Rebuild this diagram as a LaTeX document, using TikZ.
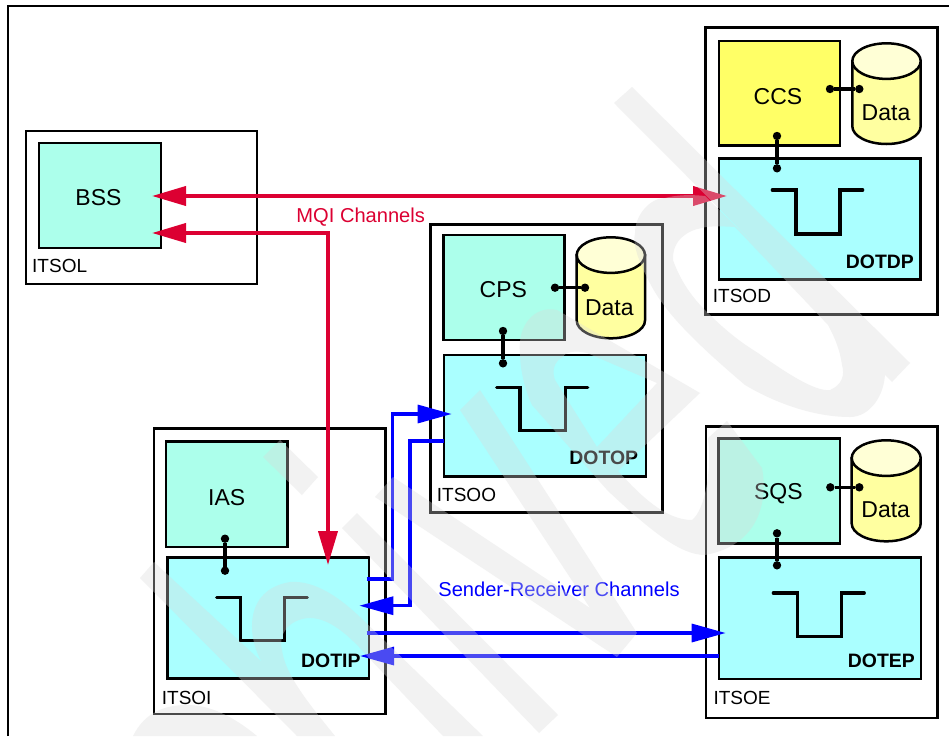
\documentclass[tikz,border=0pt]{standalone}
\usepackage{fontspec}
\setmainfont{Liberation Sans}
\usetikzlibrary{arrows.meta}
\definecolor{mint}{RGB}{172,255,235}
\definecolor{aqua}{RGB}{170,255,255}
\definecolor{lemon}{RGB}{255,255,102}
\definecolor{cylbody}{RGB}{255,255,160}
\definecolor{cyltop}{RGB}{255,255,214}
\definecolor{mqired}{RGB}{220,0,50}
\definecolor{srblue}{RGB}{0,0,255}
\tikzset{
  sysbox/.style={draw=black,line width=2.5pt,fill=white,rectangle,inner sep=0pt,outer sep=0pt,anchor=north west},
  appbox/.style={draw=black,line width=2.5pt,fill=#1,rectangle,inner sep=0pt,outer sep=0pt,anchor=north west},
  qmbox/.style={draw=black,line width=2.5pt,fill=aqua,rectangle,inner sep=0pt,outer sep=0pt,anchor=north west},
  pin/.style={circle,fill=black,inner sep=0pt,outer sep=0pt,minimum size=8.4pt},
  pinlink/.style={draw=black,line width=3.2pt},
  bigtxt/.style={inner sep=0pt,font=\fontsize{23}{23}\selectfont},
  systxt/.style={inner sep=0pt,anchor=west,font=\fontsize{19}{19}\selectfont},
  qmtxt/.style={inner sep=0pt,anchor=east,font=\fontsize{19.4}{19}\selectfont\bfseries},
  chtxt/.style={inner sep=0pt,font=\fontsize{20.1}{20}\selectfont},
  pulse/.style={draw=black,line width=3.2pt,line cap=round,line join=miter},
  cylline/.style={draw=black,line width=2.5pt},
  redarrows/.style={draw=mqired,line width=3.8pt,line join=miter,{Triangle[length=34pt,width=19pt]}-{Triangle[length=34pt,width=19pt]}},
  bluearrow/.style={draw=srblue,line width=3.2pt,line join=miter,-{Triangle[length=34pt,width=18pt]}},
}
\newcommand{\pxbox}[6]{%
  \pgfmathsetmacro{\pxw}{#5-#3}\pgfmathsetmacro{\pxh}{#6-#4}%
  \node[#2,minimum width=\pxw pt,minimum height=\pxh pt] (#1) at (#3,#4) {};}
\newcommand{\datacyl}[4]{% left right top bottom
  \pgfmathsetmacro{\cx}{(#1+#2)/2}\pgfmathsetmacro{\rxx}{(#2-#1)/2}%
  \pgfmathsetmacro{\ct}{#3+17.8}\pgfmathsetmacro{\cb}{#4-17.8}%
  \path[cylline,fill=cylbody] (#1,\ct) -- (#1,\cb) arc[start angle=180,end angle=0,x radius=\rxx,y radius=17.8] -- (#2,\ct) -- cycle;
  \path[cylline,fill=cyltop] (\cx,\ct) ellipse[x radius=\rxx,y radius=17.8];}
\begin{document}
\begin{tikzpicture}[x=1pt,y=-1pt]
\useasboundingbox (0,0) rectangle (949,736);
\fill[white] (0,0) rectangle (949,736);
\draw[black,line width=1.7pt] (8.3,736) -- (8.3,6) -- (949,6);

% ITSOL
\pxbox{itsol}{sysbox}{26}{131}{257}{284}
\pxbox{bss}{appbox=mint}{39}{143}{161}{248}
\node[bigtxt] (bsst) at (98.5,198) {BSS};
\node[systxt] (itsolt) at (32,266) {ITSOL};

% ITSOD
\pxbox{itsod}{sysbox}{705.7}{27.7}{937.3}{314.3}
\pxbox{ccs}{appbox=lemon}{719}{41}{840}{145.7}
\datacyl{852.3}{920.7}{43.3}{144}
\pxbox{dotdp}{qmbox}{719}{158.3}{920.7}{279.3}
\node[bigtxt] (ccst) at (778,96.7) {CCS};
\node[bigtxt] (datad) at (886,112.3) {Data};
\node[qmtxt] (dotdpt) at (914,262) {DOTDP};
\node[systxt] (itsodt) at (712.7,296) {ITSOD};
\node[pin] (d1) at (830,89) {}; \node[pin] (d2) at (859.3,89) {};
\node[pin] (d3) at (777,136) {}; \node[pin] (d4) at (777,168.3) {};
\draw[pinlink] (d1) -- (d2); \draw[pinlink] (d3) -- (d4);
\draw[pulse] (772.3,190) -- (796,190) -- (796,234) -- (840,234) -- (840,190) -- (862.7,190);

% ITSOO
\pxbox{itsoo}{sysbox}{430.7}{224.7}{662.3}{512.3}
\pxbox{cps}{appbox=mint}{443.3}{235}{564.3}{340}
\datacyl{576.7}{645}{237.3}{338.3}
\pxbox{dotop}{qmbox}{444}{355}{646}{476.7}
\node[bigtxt] (cpst) at (503.3,290) {CPS};
\node[bigtxt] (datao) at (609.3,307.3) {Data};
\node[qmtxt] (dotopt) at (638.3,458.3) {DOTOP};
\node[systxt] (itsoot) at (436.7,495) {ITSOO};
\node[pin] (o1) at (555,287.7) {}; \node[pin] (o2) at (585,287.7) {};
\node[pin] (o3) at (503,331) {}; \node[pin] (o4) at (503,363.3) {};
\draw[pinlink] (o1) -- (o2); \draw[pinlink] (o3) -- (o4);
\draw[pulse] (496.7,387.7) -- (520,387.7) -- (520,430.7) -- (565.7,430.7) -- (565.7,387.7) -- (587.7,387.7);

% ITSOI
\pxbox{itsoi}{sysbox}{154}{428.3}{385.7}{714}
\pxbox{ias}{appbox=mint}{166}{441.7}{287.7}{547}
\pxbox{dotip}{qmbox}{167.3}{557.3}{369}{678.3}
\node[bigtxt] (iast) at (226.7,497.3) {IAS};
\node[qmtxt] (dotipt) at (360.7,661.3) {DOTIP};
\node[systxt] (itsoit) at (161.7,698) {ITSOI};
\node[pin] (i3) at (225,538.7) {}; \node[pin] (i4) at (225,570.7) {};
\draw[pinlink] (i3) -- (i4);
\draw[pulse] (216.7,597.7) -- (240.7,597.7) -- (240.7,640.7) -- (284.3,640.7) -- (284.3,597.7) -- (307.3,597.7);

% ITSOE
\pxbox{itsoe}{sysbox}{706}{426.3}{937.7}{718}
\pxbox{sqs}{appbox=mint}{718.3}{438.7}{840}{543.7}
\datacyl{851.7}{920.7}{440.3}{541.3}
\pxbox{dotep}{qmbox}{719}{557.3}{921}{679}
\node[bigtxt] (sqst) at (778.3,493.7) {SQS};
\node[bigtxt] (datae) at (885.7,509.7) {Data};
\node[qmtxt] (dotept) at (915,661.3) {DOTEP};
\node[systxt] (itsoet) at (713.3,698) {ITSOE};
\node[pin] (e1) at (830.3,487.3) {}; \node[pin] (e2) at (859.3,487.3) {};
\node[pin] (e3) at (777,533.3) {}; \node[pin] (e4) at (777,565.3) {};
\draw[pinlink] (e1) -- (e2); \draw[pinlink] (e3) -- (e4);
\draw[pulse] (773.3,593) -- (797.7,593) -- (797.7,636.3) -- (841.7,636.3) -- (841.7,593) -- (864.3,593);

% channel labels
\node[chtxt,text=mqired] (mqi) at (360.7,216.7) {MQI Channels};
\node[chtxt,text=srblue] (sr) at (559,589.3) {Sender-Receiver Channels};

% red channels
\coordinate (bssA) at (152,196); \coordinate (ccsA) at (727,196);
\coordinate (bssB) at (152,233); \coordinate (ipR) at (328,565);
\draw[redarrows] (bssA) -- (ccsA);
\draw[redarrows] (bssB) -- (328,233) -- (ipR);

% blue channels
\coordinate (c1s) at (366.7,579); \coordinate (c1t) at (451.7,414);
\coordinate (c2s) at (444,441); \coordinate (c2t) at (359.3,605.7);
\coordinate (c3s) at (366.7,633); \coordinate (c3t) at (725.7,633);
\coordinate (c4s) at (719,656); \coordinate (c4t) at (360,656);
\draw[bluearrow] (c1s) -- (392.3,579) -- (392.3,414) -- (c1t);
\draw[bluearrow] (c2s) -- (410,441) -- (410,605.7) -- (c2t);
\draw[bluearrow] (c3s) -- (c3t);
\draw[bluearrow] (c4s) -- (c4t);

% pale overlay shapes lying over the whole drawing
\fill[black!15,fill opacity=0.34,nonzero rule]
  % long stem
  (632,87) -- (910,363) -- (892,382) -- (614,103) -- cycle
  % short bar
  (280,440) -- (318,477) -- (302,495) -- (263,457) -- cycle
  % left stem with hook
  (154,562) -- (262,662) .. controls (248,640) and (242,590) .. (290,582)
    .. controls (315,580) and (340,598) .. (360,617) -- (483,736) -- (443,736) -- (368,657)
    .. controls (345,630) and (325,617) .. (308,618) .. controls (288,620) and (278,635) .. (282,650)
    .. controls (285,675) and (310,705) .. (335,736) -- (297,736) -- (140,578) -- cycle
  % bottom arc
  (133,736) .. controls (145,712) and (165,705) .. (187,705) .. controls (215,705) and (240,722) .. (257,736) -- cycle
  % second stem
  (357,513) -- (558,715) -- (539,733) -- (342,528) -- cycle
  % V
  (375,497) -- (393,477) -- (590,608) -- (460,410) -- (480,390) -- (637,633) -- (617,657) -- cycle
  % e outer
  (520,353) .. controls (517,325) and (535,305) .. (557,310) -- (700,393) -- (618,471)
    .. controls (640,495) and (665,520) .. (692,520) .. controls (705,510) and (712,470) .. (708,438)
    -- (727,421) -- (762,468) .. controls (768,500) and (760,545) .. (705,555)
    .. controls (680,555) and (650,530) .. (608,491) -- (532,405) .. controls (525,390) and (520,370) .. (520,353) -- cycle
  % e counter
  (587,353) .. controls (575,350) and (565,352) .. (563,357) .. controls (553,362) and (552,372) .. (555,380)
    -- (597,447) -- (657,383) -- cycle
  % bowl outer
  (705,196) -- (885,372) .. controls (885,395) and (870,417) .. (850,417) .. controls (810,417) and (770,400) .. (745,385)
    .. controls (710,355) and (670,320) .. (652,287) .. controls (640,265) and (632,245) .. (635,233)
    .. controls (635,215) and (650,198) .. (665,198) .. controls (680,194) and (695,195) .. (705,196) -- cycle
  % bowl counter
  (735,227) .. controls (720,226) and (708,226) .. (702,228) .. controls (688,230) and (672,240) .. (673,260)
    .. controls (680,280) and (692,298) .. (708,313) .. controls (725,330) and (740,342) .. (758,353)
    .. controls (785,372) and (815,392) .. (830,390) .. controls (842,385) and (845,375) .. (842,365)
    .. controls (840,350) and (835,338) .. (828,325) -- cycle;
\end{tikzpicture}
\end{document}
